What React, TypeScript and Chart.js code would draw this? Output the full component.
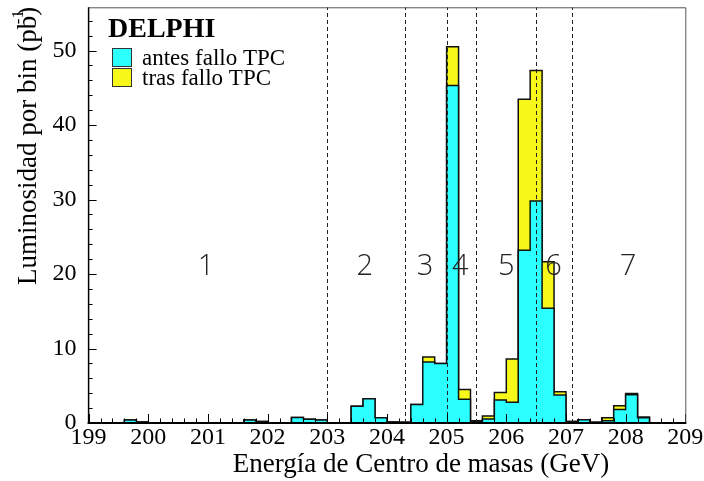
import React, { useEffect, useRef } from "react";
import { Chart, registerables } from "chart.js";

Chart.register(...registerables);

// Bin low edges (0.2 GeV bins from 199 to 209) plus the final upper edge
const binEdges: number[] = Array.from({ length: 51 }, (_, i) => Math.round((199 + 0.2 * i) * 10) / 10);

// Luminosity per bin (pb^-1) before the TPC failure
const antesFallo: number[] = [
  0, 0, 0, 0.4, 0.15, 0, 0, 0, 0, 0,
  0, 0, 0, 0.4, 0.2, 0, 0, 0.75, 0.5, 0.4,
  0, 0, 2.25, 3.25, 0.7, 0.15, 0.1, 2.5, 8.2, 8.0,
  45.3, 3.2, 0.2, 0.55, 3.1, 2.8, 23.2, 29.8, 15.4, 3.75,
  0.2, 0.45, 0.1, 0.3, 1.8, 3.8, 0.7, 0, 0, 0,
];

// Luminosity per bin (pb^-1) after the TPC failure
const trasFallo: number[] = [
  0, 0, 0, 0, 0, 0, 0, 0, 0, 0,
  0, 0, 0, 0, 0, 0, 0, 0, 0, 0,
  0, 0, 0, 0, 0, 0, 0, 0, 0.65, 0,
  5.2, 1.3, 0.1, 0.4, 1.0, 5.8, 20.25, 17.5, 6.25, 0.45,
  0, 0, 0, 0.4, 0.5, 0.15, 0.1, 0, 0, 0,
];

// Energy-region boundaries (dashed lines) and region labels
const regionBounds: number[] = [203.0, 204.3, 205.0, 205.5, 206.5, 207.1];
const regionLabels: string[] = ["1", "2", "3", "4", "5", "6", "7"];
const regionLabelX: number[] = [200.97, 203.63, 204.64, 205.23, 206.0, 206.79, 208.04];
const regionLabelY = 21;

const legendTitle = "DELPHI";
const seriesNames: string[] = ["antes fallo TPC", "tras fallo TPC"];
const xTitle = "Energía de Centro de masas (GeV)";
const yTitleMain = "Luminosidad por bin (pb";
const yTitleSup = "-1";
const yTitleEnd = ")";

const CYAN = "#2bffff";
const YELLOW = "#f7f71a";
const SERIF = "'Liberation Serif', 'Times New Roman', serif";

function stepPoints(vals: number[]) {
  return binEdges.map((x, i) => ({ x, y: vals[Math.min(i, vals.length - 1)] }));
}

const decorPlugin = {
  id: "decor",
  afterDatasetsDraw(chart: any) {
    const { ctx, chartArea: a, scales } = chart;
    const x = scales.x;
    const y = scales.y;
    ctx.save();

    // dashed region lines
    ctx.setLineDash([4, 3]);
    ctx.strokeStyle = "#222";
    ctx.lineWidth = 1;
    for (const b of regionBounds) {
      const px = Math.round(x.getPixelForValue(b)) + 0.5;
      ctx.beginPath();
      ctx.moveTo(px, a.bottom);
      ctx.lineTo(px, a.top);
      ctx.stroke();
    }
    ctx.setLineDash([]);

    // x ticks (inside, pointing up)
    ctx.strokeStyle = "#000";
    ctx.lineWidth = 1;
    for (let i = 0; i <= 50; i++) {
      const v = x.min + i * 0.2;
      const px = Math.round(x.getPixelForValue(v)) + 0.5;
      const len = i % 5 === 0 ? 9 : 4.5;
      ctx.beginPath();
      ctx.moveTo(px, a.bottom);
      ctx.lineTo(px, a.bottom - len);
      ctx.stroke();
    }
    // y ticks (inside, pointing right)
    for (let v = 0; v <= y.max; v += 2) {
      const py = Math.round(y.getPixelForValue(v)) + 0.5;
      const len = v % 10 === 0 ? 8 : 4;
      ctx.beginPath();
      ctx.moveTo(a.left, py);
      ctx.lineTo(a.left + len, py);
      ctx.stroke();
    }

    // frame
    ctx.strokeStyle = "#555";
    ctx.lineWidth = 1;
    ctx.beginPath();
    ctx.moveTo(a.left, a.top + 0.5);
    ctx.lineTo(a.right + 0.5, a.top + 0.5);
    ctx.lineTo(a.right + 0.5, a.bottom);
    ctx.stroke();
    ctx.strokeStyle = "#000";
    ctx.lineWidth = 1.5;
    ctx.beginPath();
    ctx.moveTo(a.left, a.top);
    ctx.lineTo(a.left, a.bottom);
    ctx.stroke();
    ctx.lineWidth = 2;
    ctx.beginPath();
    ctx.moveTo(a.left - 1, a.bottom);
    ctx.lineTo(a.right + 1, a.bottom);
    ctx.stroke();

    // region labels
    ctx.fillStyle = "#222";
    ctx.font = "300 29px 'Open Sans', 'DejaVu Sans', sans-serif";
    ctx.textAlign = "center";
    ctx.textBaseline = "middle";
    regionLabels.forEach((t, i) => {
      ctx.fillText(t, x.getPixelForValue(regionLabelX[i]), y.getPixelForValue(regionLabelY));
    });

    ctx.restore();
  },
  afterDraw(chart: any) {
    const { ctx } = chart;
    ctx.save();
    ctx.fillStyle = "#000";

    // x title
    ctx.font = `27px ${SERIF}`;
    ctx.textAlign = "center";
    ctx.textBaseline = "middle";
    ctx.fillText(xTitle, 421, 465);

    // y title (rotated)
    ctx.translate(27, 143);
    ctx.rotate(-Math.PI / 2);
    ctx.font = `27px ${SERIF}`;
    const w1 = ctx.measureText(yTitleMain).width;
    ctx.font = `17px ${SERIF}`;
    const w2 = ctx.measureText(yTitleSup).width;
    ctx.font = `27px ${SERIF}`;
    const w3 = ctx.measureText(yTitleEnd).width;
    const total = w1 + w2 * 0.4 + w3;
    const sx = -total / 2;
    ctx.textAlign = "left";
    ctx.textBaseline = "alphabetic";
    ctx.fillText(yTitleMain, sx, 9);
    ctx.fillText(yTitleEnd, sx + w1, 9);
    ctx.font = `17px ${SERIF}`;
    ctx.fillText(yTitleSup, sx + w1 - w2 * 0.6, -4);
    ctx.setTransform(1, 0, 0, 1, 0, 0);

    // legend
    ctx.font = `bold 28px ${SERIF}`;
    ctx.textAlign = "left";
    ctx.textBaseline = "alphabetic";
    ctx.fillText(legendTitle, 108, 37);
    const colors = [CYAN, YELLOW];
    ctx.font = `23px ${SERIF}`;
    seriesNames.forEach((n, i) => {
      const top = 48 + i * 20;
      ctx.fillStyle = colors[i];
      ctx.fillRect(112, top, 20, 19);
      ctx.strokeStyle = "#333";
      ctx.lineWidth = 1;
      ctx.strokeRect(112.5, top + 0.5, 19, 18);
      ctx.fillStyle = "#000";
      ctx.fillText(n, 142, top + 17);
    });
    ctx.restore();
  },
};

export default function App() {
  const canvasRef = useRef<HTMLCanvasElement | null>(null);

  useEffect(() => {
    const canvas = canvasRef.current;
    if (!canvas) return;
    const totals = antesFallo.map((v, i) => v + trasFallo[i]);
    const chart = new Chart(canvas, {
      type: "line",
      data: {
        datasets: [
          {
            label: seriesNames[0],
            data: stepPoints(antesFallo),
            stepped: true,
            fill: "origin",
            backgroundColor: CYAN,
            borderColor: "#111",
            borderWidth: 1.5,
            pointRadius: 0,
          },
          {
            label: seriesNames[1],
            data: stepPoints(totals),
            stepped: true,
            fill: "origin",
            backgroundColor: YELLOW,
            borderColor: "#111",
            borderWidth: 1.5,
            pointRadius: 0,
          },
        ],
      },
      options: {
        responsive: false,
        animation: false,
        devicePixelRatio: 1,
        layout: { padding: { top: 7.3, right: 18.7, left: 0, bottom: 0 } },
        plugins: { legend: { display: false }, tooltip: { enabled: false } },
        scales: {
          x: {
            type: "linear",
            min: 199,
            max: 209,
            grid: { display: false, drawTicks: false },
            border: { display: false },
            ticks: {
              stepSize: 1,
              includeBounds: false,
              padding: 0,
              color: "#000",
              maxRotation: 0,
              font: { family: SERIF, size: 24 },
              callback: (v: any) => String(v),
            },
            afterFit: (s: any) => {
              s.height = 58;
              s.paddingLeft = 0;
              s.paddingRight = 0;
            },
          },
          y: {
            type: "linear",
            min: 0,
            max: 55.8,
            grid: { display: false, drawTicks: false },
            border: { display: false },
            ticks: {
              stepSize: 10,
              includeBounds: false,
              padding: 12,
              color: "#000",
              font: { family: SERIF, size: 24 },
            },
            afterFit: (s: any) => {
              s.width = 88.6;
              s.paddingTop = 0;
              s.paddingBottom = 0;
            },
          },
        },
      },
      plugins: [decorPlugin],
    });
    return () => chart.destroy();
  }, []);

  return (
    <div style={{ position: "fixed", left: 0, top: 0, width: 704, height: 481, background: "#fff" }}>
      <canvas ref={canvasRef} width={704} height={481} style={{ display: "block", width: 704, height: 481 }} />
    </div>
  );
}
